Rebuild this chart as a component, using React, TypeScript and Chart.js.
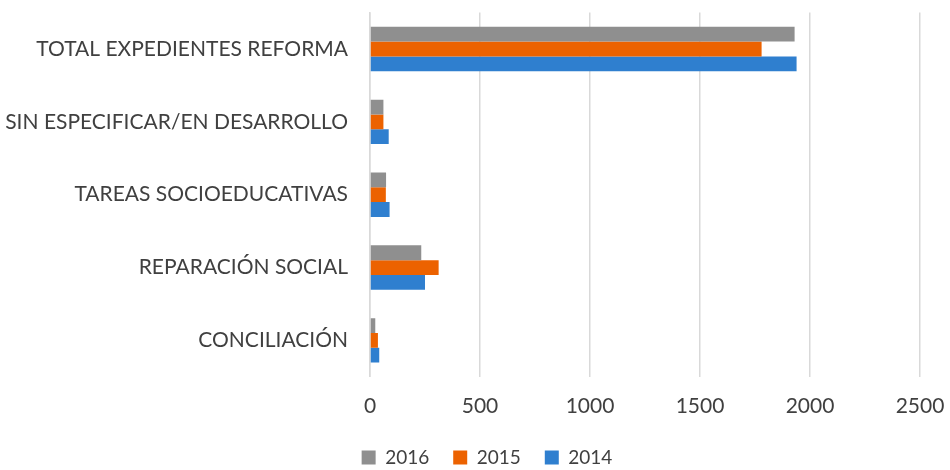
import React, { useEffect, useRef } from "react";
import { Chart, registerables } from "chart.js";

Chart.register(...registerables);

const categories = [
  "TOTAL EXPEDIENTES REFORMA",
  "SIN ESPECIFICAR/EN DESARROLLO",
  "TAREAS SOCIOEDUCATIVAS",
  "REPARACIÓN SOCIAL",
  "CONCILIACIÓN",
];
const values2016 = [1930, 61, 73, 233, 24];
const values2015 = [1780, 61, 72, 312, 36];
const values2014 = [1939, 85, 89, 250, 42];
const xTicks = [0, 500, 1000, 1500, 2000, 2500];

const FONT = "Lato, 'Open Sans', sans-serif";

const legendShift = {
  id: "legendShift",
  afterLayout(chart: any) {
    const lg = chart.legend;
    if (lg) {
      lg.top += 5;
      lg.bottom += 5;
      lg.left += 27;
      lg.right += 27;
    }
  },
};

export default function App() {
  const ref = useRef<HTMLCanvasElement | null>(null);
  useEffect(() => {
    if (!ref.current) return;
    const chart = new Chart(ref.current, {
      type: "bar",
      data: {
        labels: categories,
        datasets: [
          { label: "2016", data: values2016, backgroundColor: "#8f8f8f" },
          { label: "2015", data: values2015, backgroundColor: "#ec6200" },
          { label: "2014", data: values2014, backgroundColor: "#2f7fcf" },
        ],
      },
      plugins: [legendShift],
      options: {
        indexAxis: "y",
        animation: false,
        responsive: false,
        maintainAspectRatio: false,
        datasets: { bar: { categoryPercentage: 0.61, barPercentage: 1 } },
        layout: { padding: { top: -2, right: 30, left: 0, bottom: -2 } },
        scales: {
          x: {
            min: 0,
            max: 2500,
            afterBuildTicks: (s: any) => {
              s.ticks = xTicks.map((v) => ({ value: v }));
            },
            grid: {
              color: "#d9d9d9",
              lineWidth: 1.5,
              drawTicks: true,
              tickLength: 17,
              tickColor: "rgba(0,0,0,0)",
            },
            border: { display: false },
            ticks: {
              padding: 0,
              color: "#404040",
              font: { family: FONT, size: 21 },
              callback: (v: any) => String(v),
            },
          },
          y: {
            grid: {
              display: true,
              color: "rgba(0,0,0,0)",
              drawTicks: true,
              tickLength: 22,
              tickColor: "rgba(0,0,0,0)",
            },
            border: { display: true, color: "#d9d9d9", width: 1.5 },
            afterFit: (s: any) => {
              s.width = 370;
            },
            ticks: {
              padding: 0,
              color: "#404040",
              font: { family: FONT, size: 21 },
            },
          },
        },
        plugins: {
          legend: {
            position: "bottom",
            labels: {
              boxWidth: 14,
              boxHeight: 14,
              padding: 24,
              color: "#404040",
              font: { family: FONT, size: 19 },
            },
          },
          tooltip: { enabled: false },
        },
      },
    });
    return () => chart.destroy();
  }, []);
  return (
    <div style={{ position: "fixed", left: 0, top: 0, width: 950, height: 470, background: "#fff" }}>
      <canvas ref={ref} width={950} height={470} />
    </div>
  );
}
